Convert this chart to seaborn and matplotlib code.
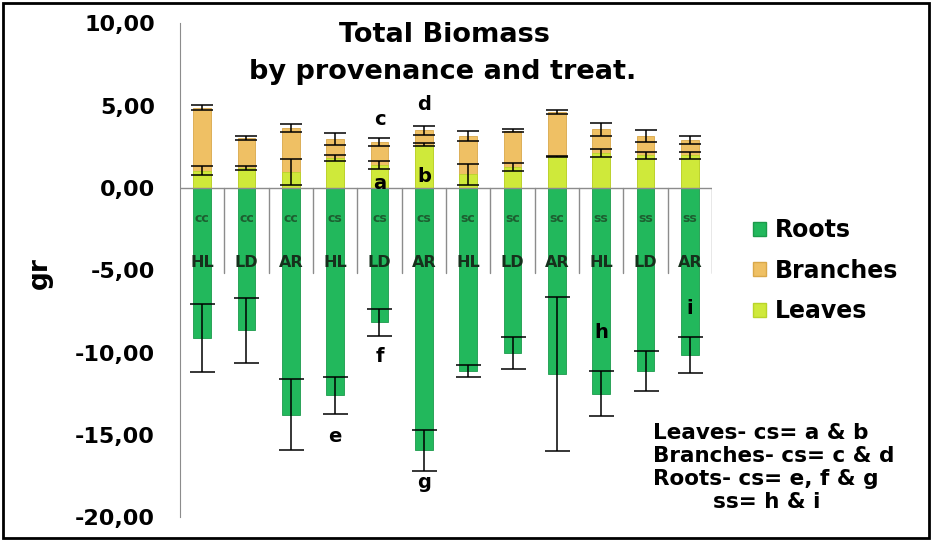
import pandas as pd
import seaborn as sns
import matplotlib.pyplot as plt
from matplotlib.patches import Patch
from matplotlib.ticker import FuncFormatter

# Data (gr)
treat = ['cc', 'cc', 'cc', 'cs', 'cs', 'cs', 'sc', 'sc', 'sc', 'ss', 'ss', 'ss']
prov = ['HL', 'LD', 'AR', 'HL', 'LD', 'AR', 'HL', 'LD', 'AR', 'HL', 'LD', 'AR']
leaves = [1.05, 1.21, 0.98, 1.82, 1.40, 2.63, 0.84, 1.26, 1.92, 2.11, 2.00, 1.98]
leaves_err = [0.27, 0.14, 0.78, 0.20, 0.22, 0.10, 0.64, 0.25, 0.02, 0.25, 0.22, 0.20]
branches = [3.84, 1.82, 2.66, 1.16, 1.40, 0.88, 2.30, 2.23, 2.70, 1.45, 1.15, 0.95]
branches_err = [0.13, 0.11, 0.26, 0.35, 0.27, 0.27, 0.30, 0.11, 0.10, 0.38, 0.35, 0.26]
roots = [9.10, 8.65, 13.77, 12.60, 8.16, 15.93, 11.10, 10.03, 11.30, 12.50, 11.10, 10.13]
roots_err = [2.07, 1.97, 2.17, 1.14, 0.83, 1.25, 0.36, 0.96, 4.68, 1.37, 1.22, 1.10]

# significance letters: (letter, bar index, y position)
letters = ['a', 'b', 'c', 'd', 'e', 'f', 'g', 'h', 'i']
letter_bar = [4, 5, 4, 5, 3, 4, 5, 9, 11]
letter_y = [0.3, 0.7, 4.15, 5.05, -15.1, -10.25, -17.9, -8.8, -7.3]

df = pd.DataFrame({'treat': treat, 'prov': prov, 'leaves': leaves, 'branches': branches, 'roots': roots})
df['group'] = df['treat'] + '-' + df['prov']
df['top'] = df['leaves'] + df['branches']
df['neg_roots'] = -df['roots']
order = list(df['group'])

c_roots = '#22b85c'
c_branches = '#efc064'
c_leaves = '#cfe93a'

sns.set_style('white')
plt.rcParams['font.family'] = ['DejaVu Sans']
plt.rcParams['text.color'] = 'black'
plt.rcParams['ytick.labelcolor'] = 'black'

fig = plt.figure(figsize=(9.32, 5.41), dpi=100)
ax = fig.add_axes([0.1931, 0.0438, 0.5709, 0.9129])

# stacked bars: draw total first, then leaves over it
sns.barplot(data=df, x='group', y='top', order=order, color=c_branches, saturation=1,
            width=0.4, edgecolor='#d9a84a', linewidth=0.6, ax=ax)
sns.barplot(data=df, x='group', y='leaves', order=order, color=c_leaves, saturation=1,
            width=0.4, edgecolor='#b9d42a', linewidth=0.6, ax=ax)
sns.barplot(data=df, x='group', y='neg_roots', order=order, color=c_roots, saturation=1,
            width=0.4, edgecolor='#1c9a4b', linewidth=0.6, ax=ax)

xs = range(len(df))
ekw = dict(fmt='none', ecolor='black', elinewidth=1.1, capthick=1.1, zorder=5)
ax.errorbar(xs, df['leaves'], yerr=leaves_err, capsize=8, **ekw)
ax.errorbar(xs, df['top'], yerr=branches_err, capsize=8, **ekw)
ax.errorbar(xs, df['neg_roots'], yerr=roots_err, capsize=9, **ekw)

# category axis at zero with separators
ax.axhline(0, color='#8c8c8c', lw=1, zorder=1)
for k in range(1, len(df) + 1):
    ax.plot([k - 0.5, k - 0.5], [0, -5.15], color='#8c8c8c', lw=1, zorder=1)
for i in xs:
    ax.text(i, -1.85, treat[i], ha='center', va='center', fontsize=9, fontweight='bold',
            color='#1d5e30', zorder=6)
    ax.text(i, -4.5, prov[i], ha='center', va='center', fontsize=11.5, fontweight='bold',
            color='#16301c', zorder=6)

for lt, b, y in zip(letters, letter_bar, letter_y):
    ax.text(b, y, lt, ha='center', va='center', fontsize=14, fontweight='bold', zorder=7)

ax.set_xlim(-0.5, 11.5)
ax.set_ylim(-20, 10)
ax.set_yticks([10, 5, 0, -5, -10, -15, -20])
ax.yaxis.set_major_formatter(FuncFormatter(lambda v, p: f'{v:.2f}'.replace('.', ',')))
ax.set_xticks([])
ax.set_xlabel('')
ax.set_ylabel('')
for s in ['top', 'right', 'bottom']:
    ax.spines[s].set_visible(False)
ax.spines['left'].set_color('#8c8c8c')
ax.tick_params(axis='y', direction='out', length=6, width=1, color='#8c8c8c', pad=12,
               labelsize=16, labelcolor='black')
for t in ax.get_yticklabels():
    t.set_fontweight('bold')
ax.patch.set_alpha(0)

fig.text(0.043, 0.495, 'gr', rotation=90, ha='center', va='center', fontsize=19, fontweight='bold')
fig.text(0.477, 0.935, 'Total Biomass', ha='center', va='center', fontsize=19.5, fontweight='bold')
fig.text(0.475, 0.867, 'by provenance and treat.', ha='center', va='center', fontsize=19.5,
         fontweight='bold')

handles = [Patch(facecolor=c_roots, edgecolor='#1c9a4b'),
           Patch(facecolor=c_branches, edgecolor='#d9a84a'),
           Patch(facecolor=c_leaves, edgecolor='#b9d42a')]
fig.legend(handles, ['Roots', 'Branches', 'Leaves'], loc='center left',
           bbox_to_anchor=(0.785, 0.5), frameon=False, prop={'size': 17, 'weight': 'bold'},
           handlelength=0.55, handleheight=0.55, handletextpad=0.4, labelspacing=0.7)

fig.text(0.701, 0.136, 'Leaves- cs= a & b\nBranches- cs= c & d\nRoots- cs= e, f & g\n        ss= h & i',
         ha='left', va='center', fontsize=15.5, fontweight='bold', linespacing=1.2)

# outer frame
fig.add_artist(plt.Rectangle((0.003, 0.005), 0.994, 0.99, transform=fig.transFigure,
                             fill=False, edgecolor='black', lw=2))

fig.savefig('out.png', dpi=100)
